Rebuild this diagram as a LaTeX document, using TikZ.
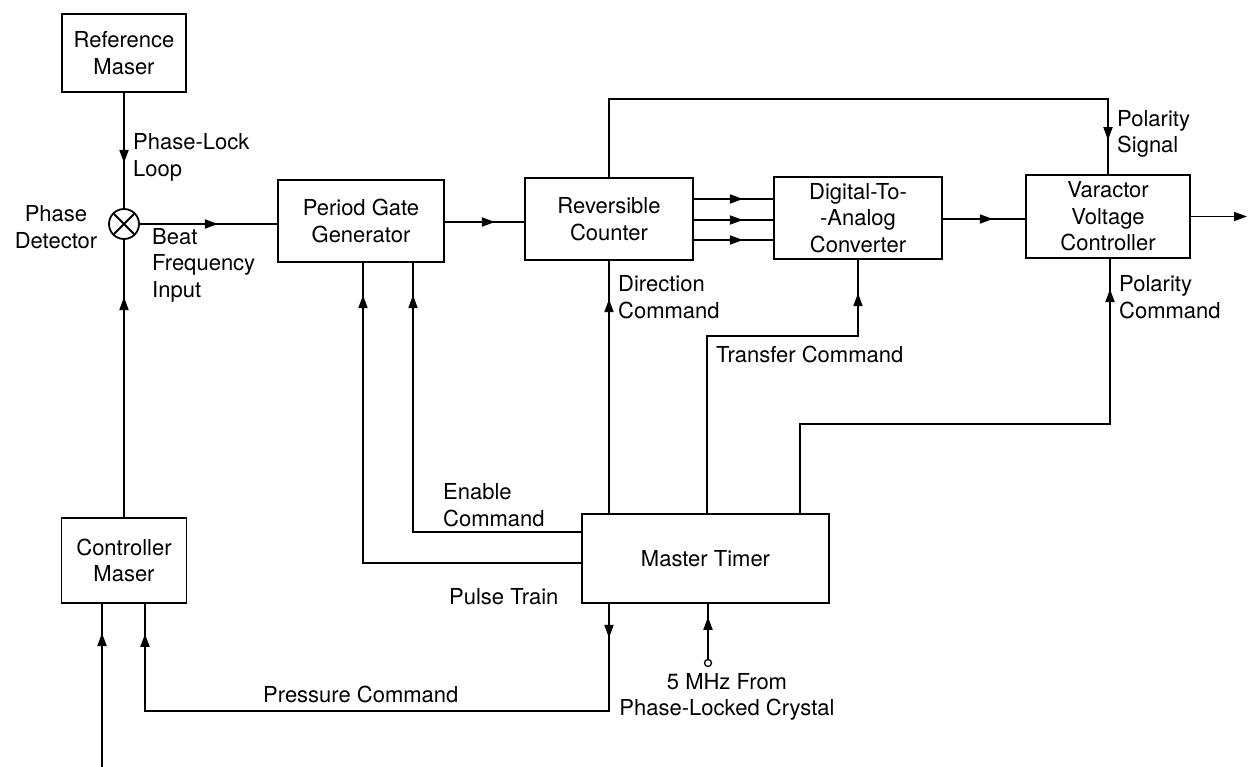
\documentclass[tikz,border=0pt]{standalone}
\usepackage{fontspec}
\setmainfont{TeX Gyre Heros}
\usetikzlibrary{arrows.meta,decorations.markings,calc}
\tikzset{
  blk/.style={draw,line width=1.8pt,rectangle,inner sep=0pt,align=center},
  wire/.style={line width=1.8pt},
  lbl/.style={inner sep=0pt,align=left,anchor=west},
  arr/.style={postaction={decorate},decoration={markings,mark=at position #1 with {\arrow{Triangle[length=13pt,width=9pt]}}}},
  arrr/.style 2 args={postaction={decorate},decoration={markings,
     mark=at position #1 with {\arrow{Triangle[length=13pt,width=9pt]}},
     mark=at position #2 with {\arrow{Triangle[length=13pt,width=9pt]}}}}
}
\begin{document}
\begin{tikzpicture}[x=1pt,y=-1pt,font=\fontsize{22}{26.5}\selectfont]
\useasboundingbox (0,0) rectangle (1248,767);
% blocks
\node[blk,minimum width=124pt,minimum height=78pt] (ref) at (124,53) {Reference\\Maser};
\node[blk,minimum width=166pt,minimum height=82pt] (pgg) at (361,221) {Period Gate\\Generator};
\node[blk,minimum width=168pt,minimum height=82pt] (rc) at (609,219) {Reversible\\Counter};
\node[blk,minimum width=168pt,minimum height=82pt] (dac) at (858,218) {Digital-To-\\-Analog\\Converter};
\node[blk,minimum width=164pt,minimum height=83pt] (vvc) at (1108,216.5) {Varactor\\Voltage\\Controller};
\node[blk,minimum width=125pt,minimum height=85pt] (cm) at (124,560.5) {Controller\\Maser};
\node[blk,minimum width=247pt,minimum height=89pt] (mt) at (705.5,558.5) {Master Timer};
% phase detector
\node[draw,circle,line width=1.8pt,minimum size=30pt,inner sep=0pt] (pd) at (124,224) {};
\draw[wire] (pd.45) -- (pd.225) (pd.135) -- (pd.315);
% crystal input terminal
\node[draw,circle,line width=1.3pt,minimum size=7pt,inner sep=0pt,fill=white] (xtal) at (708,663) {};
\coordinate (out) at (1247,216.5);
\coordinate (bin) at (102,767);
% connectors
\draw[wire,arr=70pt] (ref.south) -- (pd.north);
\draw[wire,arr=220pt] (cm.north) -- (pd.south);
\draw[wire,arr=78pt] (pd.east) -- (pgg.west |- pd.east);
\draw[wire,arr=50pt] (pgg.east |- 0,222) -- (rc.west |- 0,222);
\draw[wire,arr=49pt] ([yshift=20pt]rc.east) -- ([yshift=20pt]rc.east -| dac.west);
\draw[wire,arr=49pt] ([yshift=-1pt]rc.east) -- ([yshift=-1pt]rc.east -| dac.west);
\draw[wire,arr=49pt] ([yshift=-21pt]rc.east) -- ([yshift=-21pt]rc.east -| dac.west);
\draw[wire,arr=50pt] (dac.east |- 0,219) -- (vvc.west |- 0,219);
\draw[wire,-{Triangle[length=13pt,width=9pt]}] (vvc.east) -- (out);
\draw[wire,arr=618pt] (rc.north) -- ++(0,-78) -| (vvc.north);
\draw[wire,arr=214pt] (mt.north -| rc.south) -- (rc.south);
\draw[wire,arr=371pt] ([xshift=1.5pt]mt.north) -- ++(0,-177) -| (dac.south);
\draw[wire,arr=534pt] ([xshift=94.5pt]mt.north) -- ++(0,-89) -| ([xshift=2pt]vvc.south);
\draw[wire,arr=405pt] ([yshift=26.5pt]mt.west) -| ([xshift=52pt]pgg.south);
\draw[wire,arr=486pt] ([yshift=-4.5pt]mt.west) -| ([xshift=2pt]pgg.south);
\draw[wire,arrr={34pt}{648pt}] (mt.south -| rc.south) -- ++(0,107) -| ([xshift=21pt]cm.south);
\draw[wire,arr=42pt] (xtal.north) -- (xtal.north |- mt.south);
\draw[wire,arr=134pt] (bin) -- (bin |- cm.south);
% labels
\node[lbl] (l1) at (133,157.5) {Phase-Lock\\Loop};
\node[inner sep=0pt,align=center] (l2) at (56,227) {Phase\\Detector};
\node[lbl] (l3) at (152,265) {Beat\\Frequency\\Input};
\node[lbl] (l4) at (618,297) {Direction\\Command};
\node[lbl] (l5) at (716,354) {Transfer Command};
\node[lbl] (l6) at (1117,134) {Polarity\\Signal};
\node[lbl] (l7) at (1119,297) {Polarity\\Command};
\node[lbl] (l8) at (443,505) {Enable\\Command};
\node[lbl] (l9) at (449,597) {Pulse Train};
\node[lbl] (l10) at (263,694) {Pressure Command};
\node[inner sep=0pt,align=center] (l11) at (727,697) {5 MHz From\\Phase-Locked Crystal};
\end{tikzpicture}
\end{document}
